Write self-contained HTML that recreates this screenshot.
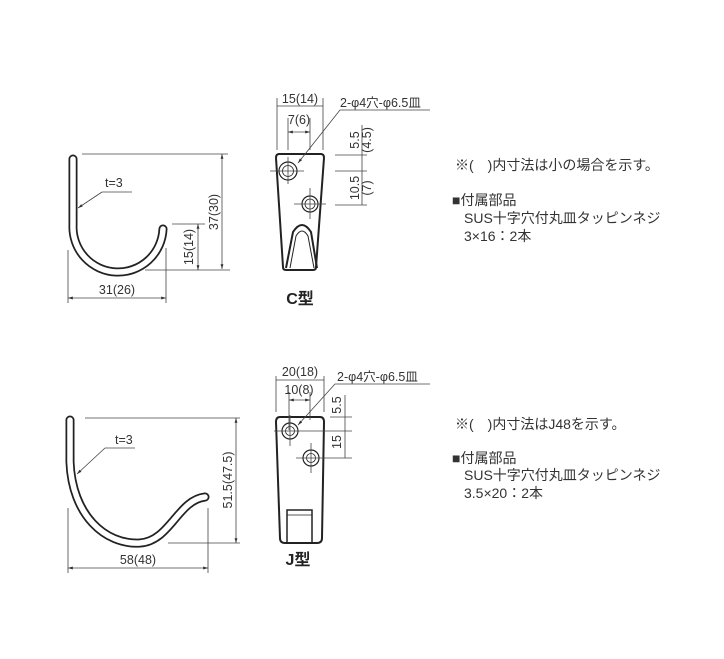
<!DOCTYPE html>
<html><head><meta charset="utf-8"><style>
html,body{margin:0;padding:0;background:#fff;width:724px;height:659px;overflow:hidden}
svg{display:block}
text{font-family:"Liberation Sans","Noto Sans CJK JP",sans-serif;fill:#333}
.t{font-size:12.5px}
.n{font-size:14px}
</style></head><body>
<svg width="724" height="659" viewBox="0 0 724 659" xmlns="http://www.w3.org/2000/svg">
<defs>
<marker id="a" viewBox="0 0 10 10" refX="10" refY="5" markerWidth="6" markerHeight="6" orient="auto-start-reverse"><path d="M0,2 L10,5 L0,8 z" fill="#333"/></marker>
</defs>
<g stroke="#444" stroke-width="0.8" fill="none">
<path d="M73,159 L73,225 A45,45 0 0 0 163,229" stroke="#222" stroke-width="9" stroke-linecap="round"/>
<path d="M73,159 L73,225 A45,45 0 0 0 163,229" stroke="#fff" stroke-width="5.5" stroke-linecap="round"/>
<line x1="82" y1="154" x2="228" y2="154"/>
<line x1="222" y1="154" x2="222" y2="269" marker-start="url(#a)" marker-end="url(#a)"/>
<line x1="172" y1="224" x2="205" y2="224"/>
<line x1="145" y1="270" x2="230" y2="270"/>
<line x1="198" y1="224" x2="198" y2="270" marker-start="url(#a)" marker-end="url(#a)"/>
<line x1="68" y1="250" x2="68" y2="303"/>
<line x1="166" y1="248" x2="166" y2="303"/>
<line x1="68" y1="298" x2="166" y2="298" marker-start="url(#a)" marker-end="url(#a)"/>
<line x1="102" y1="192" x2="132" y2="192"/>
<polyline points="102,192 78,208" marker-end="url(#a)"/>
<path d="M279,154 L321,154 Q324,154 324,158 L316,267 Q316,270 313,270 L286,270 Q283,270 283,267 L276,158 Q276,154 279,154 Z" stroke="#222" stroke-width="2"/>
<path d="M286,268 L293,232 Q302,218 311,232 L317,268" stroke="#222" stroke-width="2"/>
<path d="M290,268 L296,236 Q302,226 308,236 L314,268" stroke="#222" stroke-width="1"/>
<circle cx="288" cy="171" r="9" stroke="#222" stroke-width="1.2"/>
<circle cx="288" cy="171" r="5.5" stroke="#222"/>
<line x1="270" y1="171" x2="304" y2="171"/><line x1="288" y1="157" x2="288" y2="184"/>
<circle cx="310" cy="204" r="8" stroke="#222" stroke-width="1.2"/>
<circle cx="310" cy="204" r="5" stroke="#222"/>
<line x1="294" y1="204" x2="326" y2="204"/><line x1="310" y1="188" x2="310" y2="219"/>
<line x1="277" y1="98" x2="277" y2="150"/><line x1="323" y1="98" x2="323" y2="150"/>
<line x1="277" y1="106" x2="323" y2="106"/>
<line x1="288" y1="118" x2="288" y2="150"/><line x1="310" y1="118" x2="310" y2="150"/>
<line x1="288" y1="132" x2="310" y2="132" marker-start="url(#a)" marker-end="url(#a)"/>
<polyline points="298,163 340,110 430,110" marker-start="url(#a)"/>
<line x1="335" y1="155" x2="367" y2="155"/>
<line x1="335" y1="171" x2="367" y2="171"/>
<line x1="335" y1="205" x2="367" y2="205"/>
<line x1="362" y1="125" x2="362" y2="205"/>
<path d="M70,420 L70,462 C72,515 105,545 140,543 C170,541 178,500 205,497" stroke="#222" stroke-width="9" stroke-linecap="round"/>
<path d="M70,420 L70,462 C72,515 105,545 140,543 C170,541 178,500 205,497" stroke="#fff" stroke-width="5.5" stroke-linecap="round"/>
<line x1="85" y1="418" x2="240" y2="418"/>
<line x1="168" y1="543" x2="240" y2="543"/>
<line x1="236" y1="418" x2="236" y2="543" marker-start="url(#a)" marker-end="url(#a)"/>
<line x1="68" y1="508" x2="68" y2="573"/><line x1="208" y1="508" x2="208" y2="573"/>
<line x1="68" y1="568" x2="208" y2="568" marker-start="url(#a)" marker-end="url(#a)"/>
<line x1="105" y1="448" x2="135" y2="448"/>
<polyline points="105,448 77,474" marker-end="url(#a)"/>
<path d="M280,417 L320,417 Q324,417 324,422 L322,538 Q322,543 317,543 L285,543 Q280,543 280,538 L276,422 Q276,417 280,417 Z" stroke="#222" stroke-width="2"/>
<rect x="287" y="510" width="25" height="33" stroke="#222" stroke-width="1.5"/>
<line x1="287" y1="515" x2="312" y2="515" stroke="#222"/>
<circle cx="290" cy="431" r="8" stroke="#222" stroke-width="1.2"/>
<circle cx="290" cy="431" r="4.5" stroke="#222"/>
<line x1="274" y1="431" x2="352" y2="431"/><line x1="290" y1="415" x2="290" y2="446"/>
<circle cx="311" cy="458" r="8" stroke="#222" stroke-width="1.2"/>
<circle cx="311" cy="458" r="4.5" stroke="#222"/>
<line x1="296" y1="458" x2="352" y2="458"/><line x1="311" y1="443" x2="311" y2="473"/>
<line x1="276" y1="376" x2="276" y2="412"/><line x1="324" y1="376" x2="324" y2="412"/>
<line x1="276" y1="380" x2="324" y2="380"/>
<line x1="289" y1="392" x2="289" y2="430"/><line x1="310" y1="392" x2="310" y2="420"/>
<line x1="289" y1="400" x2="310" y2="400" marker-start="url(#a)" marker-end="url(#a)"/>
<polyline points="298,425 335,384 430,384" marker-start="url(#a)"/>
<line x1="330" y1="417" x2="352" y2="417"/>
<line x1="345" y1="395" x2="345" y2="458"/>
</g>
<text class="t" x="105" y="187">t=3</text>
<text class="t" x="117" y="294" text-anchor="middle">31(26)</text>
<text class="t" transform="translate(218,212) rotate(-90)" text-anchor="middle">37(30)</text>
<text class="t" transform="translate(193,247) rotate(-90)" text-anchor="middle">15(14)</text>
<text class="t" x="300" y="103" text-anchor="middle">15(14)</text>
<text class="t" x="299" y="124" text-anchor="middle">7(6)</text>
<text class="t" x="340" y="107">2-φ4穴-φ6.5皿</text>
<text class="t" transform="translate(359,140) rotate(-90)" text-anchor="middle">5.5</text>
<text class="t" transform="translate(371,140) rotate(-90)" text-anchor="middle">(4.5)</text>
<text class="t" transform="translate(359,188) rotate(-90)" text-anchor="middle">10.5</text>
<text class="t" transform="translate(371,188) rotate(-90)" text-anchor="middle">(7)</text>
<text x="300" y="304" text-anchor="middle" style="font-size:16px;font-weight:bold;fill:#222">C型</text>
<text class="t" x="115" y="444">t=3</text>
<text class="t" x="138" y="564" text-anchor="middle">58(48)</text>
<text class="t" transform="translate(232,480) rotate(-90)" text-anchor="middle">51.5(47.5)</text>
<text class="t" x="300" y="376" text-anchor="middle">20(18)</text>
<text class="t" x="299" y="394" text-anchor="middle">10(8)</text>
<text class="t" x="337" y="381">2-φ4穴-φ6.5皿</text>
<text class="t" transform="translate(341,405) rotate(-90)" text-anchor="middle">5.5</text>
<text class="t" transform="translate(341,442) rotate(-90)" text-anchor="middle">15</text>
<text x="298" y="565" text-anchor="middle" style="font-size:16px;font-weight:bold;fill:#222">J型</text>
<text class="n" x="455" y="170">※(　)内寸法は小の場合を示す。</text>
<text class="n" x="452" y="205">■付属部品</text>
<text class="n" x="464" y="223">SUS十字穴付丸皿タッピンネジ</text>
<text class="n" x="464" y="241">3×16：2本</text>
<text class="n" x="455" y="429">※(　)内寸法はJ48を示す。</text>
<text class="n" x="452" y="463">■付属部品</text>
<text class="n" x="464" y="480">SUS十字穴付丸皿タッピンネジ</text>
<text class="n" x="464" y="498">3.5×20：2本</text>
</svg>
</body></html>
